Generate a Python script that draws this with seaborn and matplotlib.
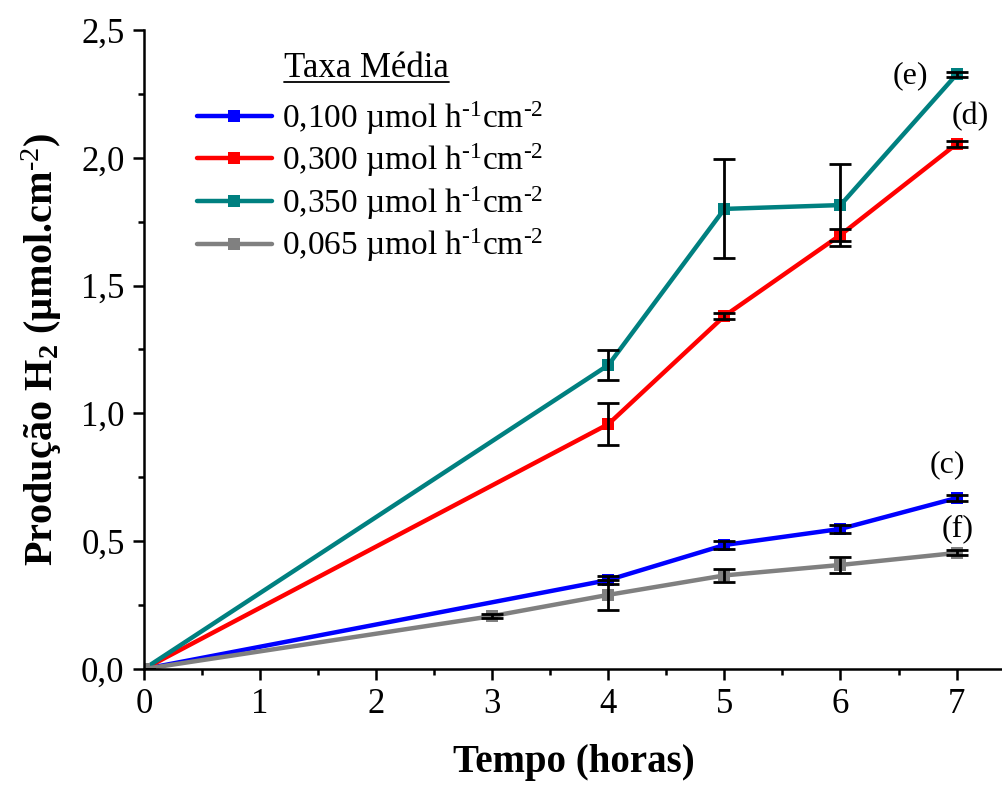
import numpy as np
import pandas as pd
import matplotlib
matplotlib.use("Agg")
import matplotlib.pyplot as plt
from matplotlib.lines import Line2D
from matplotlib.ticker import MultipleLocator, FuncFormatter
import seaborn as sns

# Hydrogen production over time for four average rates
series_names = ["0,100", "0,300", "0,350", "0,065"]
series_colors = ["#0000ff", "#ff0000", "#008080", "#808080"]
series_tags = ["(c)", "(d)", "(e)", "(f)"]

t_0100 = [0, 4, 5, 6, 7]
v_0100 = [0.0, 0.348, 0.485, 0.548, 0.669]
e_0100 = [0.0, 0.015, 0.015, 0.015, 0.010]

t_0300 = [0, 4, 5, 6, 7]
v_0300 = [0.0, 0.958, 1.381, 1.698, 2.054]
e_0300 = [0.0, 0.082, 0.010, 0.025, 0.010]

t_0350 = [0, 4, 5, 6, 7]
v_0350 = [0.0, 1.189, 1.800, 1.815, 2.326]
e_0350 = [0.0, 0.059, 0.194, 0.162, 0.010]

t_0065 = [0, 3, 4, 5, 6, 7]
v_0065 = [0.0, 0.207, 0.290, 0.366, 0.407, 0.454]
e_0065 = [0.0, 0.008, 0.058, 0.025, 0.032, 0.010]

times = [t_0100, t_0300, t_0350, t_0065]
values = [v_0100, v_0300, v_0350, v_0065]
errors = [e_0100, e_0300, e_0350, e_0065]

frames = []
for name, t, v, e in zip(series_names, times, values, errors):
    frames.append(pd.DataFrame({"Tempo": t, "H2": v, "err": e, "serie": name}))
df = pd.concat(frames, ignore_index=True)

sns.set_style("ticks")
plt.rcParams["font.family"] = ["Liberation Serif", "DejaVu Serif"]
plt.rcParams["mathtext.fontset"] = "custom"
plt.rcParams["mathtext.rm"] = "Liberation Serif"
plt.rcParams["mathtext.it"] = "Liberation Serif"
plt.rcParams["mathtext.bf"] = "Liberation Serif:bold"
for key in ["text.color", "axes.labelcolor", "xtick.color", "ytick.color", "axes.edgecolor"]:
    plt.rcParams[key] = "black"

fig = plt.figure(figsize=(10.03, 7.85), dpi=100)
ax = fig.add_axes([0.1436, 0.1478, 0.8564, 0.814])

palette = dict(zip(series_names, series_colors))
sns.lineplot(data=df, x="Tempo", y="H2", hue="serie", hue_order=series_names,
             palette=palette, marker="s", markersize=9, markeredgewidth=0,
             linewidth=3.2, legend=False, ax=ax, sort=False, errorbar=None)

for name in series_names:
    sub = df[df["serie"] == name]
    ax.errorbar(sub["Tempo"], sub["H2"], yerr=sub["err"], fmt="none",
                ecolor="black", elinewidth=2, capsize=8, capthick=2, zorder=5)

ax.set_xlim(0, 7.4)
ax.set_ylim(0, 2.5)
ax.xaxis.set_major_locator(MultipleLocator(1))
ax.xaxis.set_minor_locator(MultipleLocator(0.5))
ax.yaxis.set_major_locator(MultipleLocator(0.5))
ax.yaxis.set_minor_locator(MultipleLocator(0.25))
ax.yaxis.set_major_formatter(FuncFormatter(lambda v, p: f"{v:.1f}".replace(".", ",")))
ax.xaxis.set_major_formatter(FuncFormatter(lambda v, p: f"{int(round(v))}"))

ax.tick_params(which="major", direction="out", length=8, width=1.8, labelsize=25, pad=6)
ax.tick_params(which="minor", direction="out", length=4.5, width=1.8)
for s in ["left", "bottom"]:
    ax.spines[s].set_linewidth(1.8)
for s in ["top", "right"]:
    ax.spines[s].set_visible(False)

ax.set_xlabel("Tempo (horas)", fontsize=28, fontweight="bold", labelpad=16)
ax.set_ylabel(r"Produção H$_\mathbf{2}$ (µmol.cm$^{\mathbf{\text{-2}}}$)", fontsize=29,
              fontweight="bold", labelpad=12)

# Series tags near the last points
tag_pos = {"(c)": (6.92, 0.80), "(d)": (7.12, 2.16), "(e)": (6.6, 2.32), "(f)": (7.01, 0.55)}
for tag in series_tags:
    x, y = tag_pos[tag]
    ax.text(x, y, tag, fontsize=23, ha="center", va="center")

handles = [Line2D([0], [0], color=c, lw=3.2, marker="s", markersize=9, markeredgewidth=0)
           for c in series_colors]
labels = [f"{n} µmol h$^{{\\text{{-1}}}}$cm$^{{\\text{{-2}}}}$" for n in series_names]
leg = ax.legend(handles, labels, loc="upper left", bbox_to_anchor=(0.046, 0.913),
                frameon=False, fontsize=24, handlelength=2.25, handletextpad=0.3,
                labelspacing=0.15, borderaxespad=0)

title = fig.text(0.283, 0.913, "Taxa Média", fontsize=25, ha="left", va="center")
fig.canvas.draw()
bb = title.get_window_extent().transformed(fig.transFigure.inverted())
fig.add_artist(Line2D([bb.x0, bb.x1], [bb.y0 + 0.003, bb.y0 + 0.003],
                      color="black", lw=1.3, transform=fig.transFigure))

fig.savefig("out.png", dpi=100)
